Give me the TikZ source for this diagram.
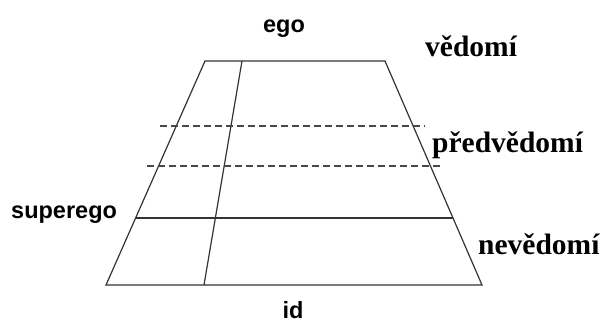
\documentclass[tikz,border=0pt]{standalone}
\usepackage{fontspec}
\setmainfont{Liberation Serif}
\setsansfont{Liberation Sans}
\usetikzlibrary{calc}
\begin{document}
\begin{tikzpicture}[x=1pt,y=1pt,
  edge/.style={draw=black!80,line width=1.2pt},
  dashline/.style={draw=black!72,line width=1.2pt,dash pattern=on 7pt off 4pt},
  sanslabel/.style={font=\sffamily\bfseries\fontsize{23.5}{23.5}\selectfont,inner sep=0pt,anchor=base},
  seriflabel/.style={font=\rmfamily\bfseries\fontsize{29.5}{29.5}\selectfont,inner sep=0pt,anchor=base west}]
\useasboundingbox (0,0) rectangle (606,322);
% trapezoid corners
\coordinate (TL) at (205,261);
\coordinate (TR) at (385,261);
\coordinate (BR) at (482,37);
\coordinate (BL) at (106,37);
\coordinate (IT) at (242,261);
\coordinate (IB) at (204,37);
\coordinate (SL) at ($(TL)!0.701!(BL)$);
\coordinate (SR) at ($(TR)!0.701!(BR)$);
\coordinate (D1L) at (160,196);
\coordinate (D1R) at (425,196);
\coordinate (D2L) at (147,156);
\coordinate (D2R) at (442,156);
% shapes
\draw[edge,line join=miter] (TL) -- (TR) -- (BR) -- (BL) -- cycle;
\draw[edge] (IT) -- (IB);
\draw[edge] (SL) -- (SR);
\draw[dashline] (D1L) -- (D1R);
\draw[dashline] (D2L) -- (D2R);
% labels
\node[sanslabel] (ego) at (284,289) {ego};
\node[sanslabel] (id) at (293,4) {id};
\node[sanslabel,anchor=base west] (superego) at (11,104) {superego};
\node[seriflabel] (vedomi) at (425,265) {vědomí};
\node[seriflabel] (predvedomi) at (432,169) {předvědomí};
\node[seriflabel] (nevedomi) at (478,67) {nevědomí};
\end{tikzpicture}
\end{document}
